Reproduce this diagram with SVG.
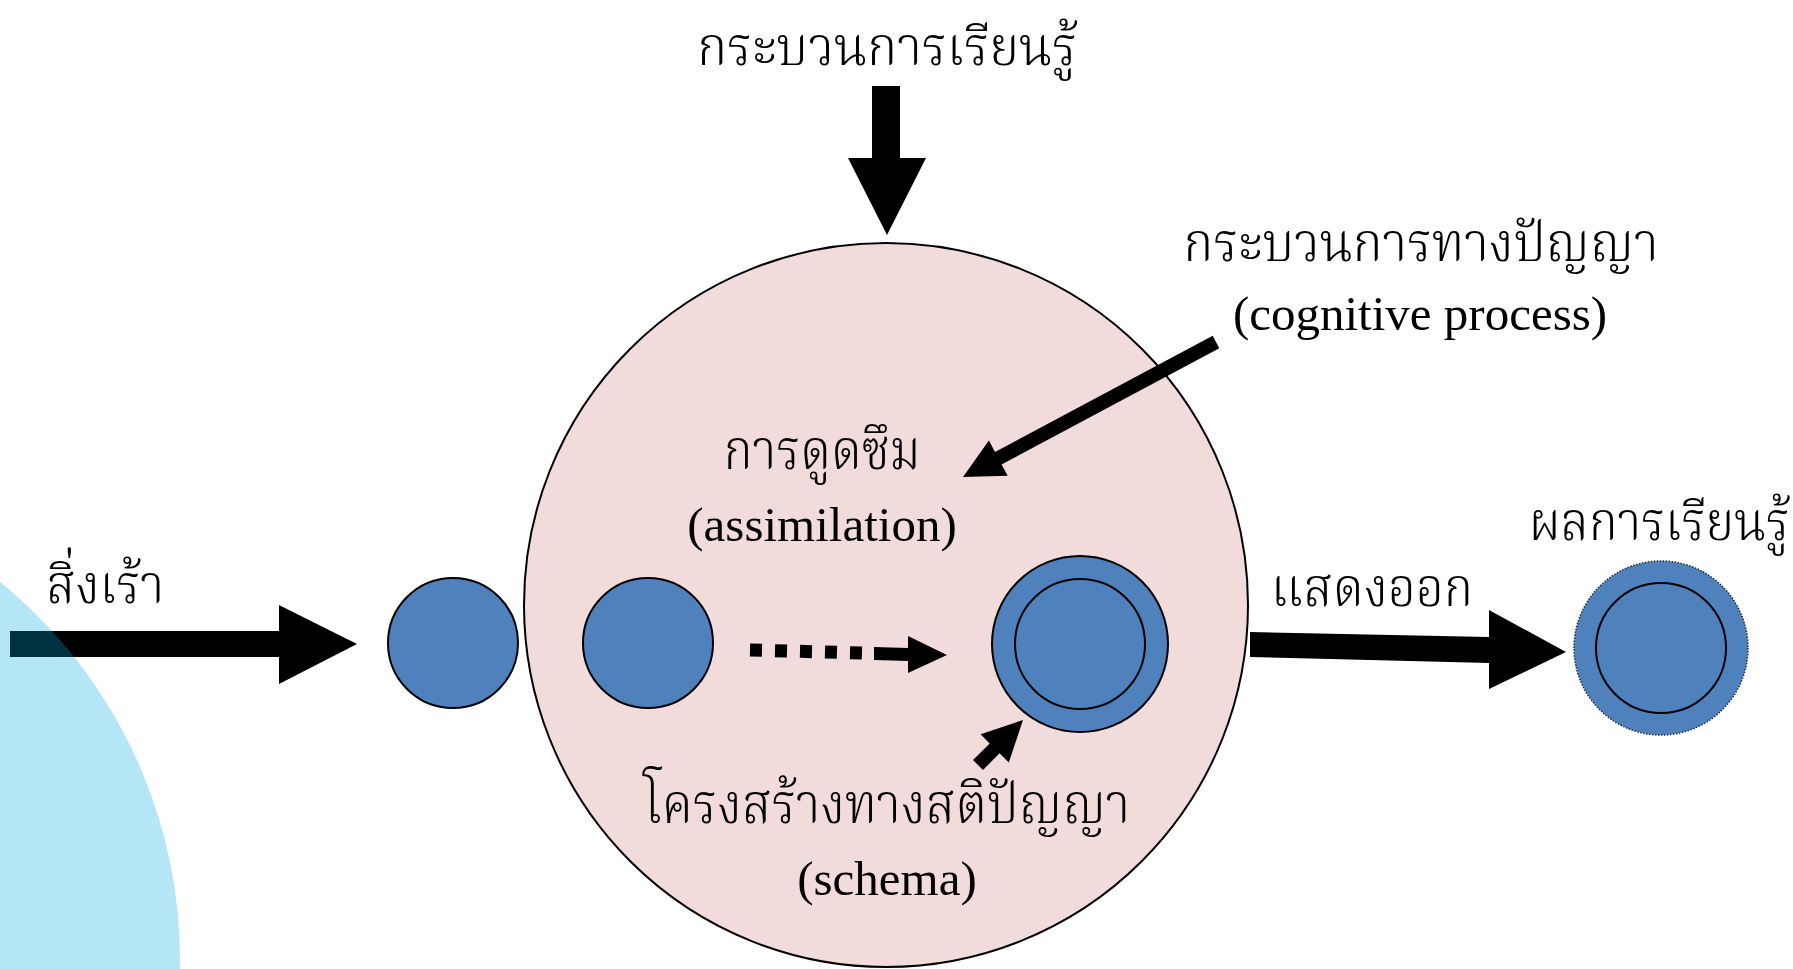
<svg xmlns="http://www.w3.org/2000/svg" width="1793" height="969" viewBox="0 0 1793 969">
<style>
.sans{font-family:"Liberation Serif","Noto Serif Thai","Noto Serif",serif;font-size:54px;font-weight:300;fill:#000}
.serif{font-family:"Liberation Serif","Noto Serif",serif;font-size:49px;fill:#000}
.tserif{font-family:"Liberation Serif","Noto Serif Thai","Noto Serif",serif;font-size:56px;font-weight:300;fill:#000}
.blue{fill:#4f81bd;stroke:#000;stroke-width:2}
.arrow{fill:#000;stroke:none}
</style>
<rect width="1793" height="969" fill="#fff"/>
<g id="big-circle">
<circle cx="886" cy="605" r="362" fill="#f2dcdb" stroke="#000" stroke-width="2"/>
</g>
<g id="connectors">
<polygon class="arrow" points="872,86 900,86 900,158 926,158 887,235 848,158 872,158"/>
<polygon class="arrow" points="10,631 279,631 279,605 357,644 279,684 279,657 10,657"/>
<line x1="750" y1="650" x2="862" y2="653" stroke="#000" stroke-width="13" stroke-dasharray="12 13"/>
<polygon class="arrow" points="874,647 908,648 908,636 947,655 908,673 908,661 874,660"/>
<polygon class="arrow" points="973,760 989.7,743.4 980.6,734.2 1023,720 1008.8,762.4 999.6,753.3 983,770"/>
<polygon class="arrow" points="1212.7,335.8 1219.3,348.2 1001.6,464.4 1007.7,475.8 963,477 988.9,440.6 995,452"/>
<polygon class="arrow" points="1250,632 1489,637 1489,610 1566,652 1489,689 1489,663 1250,657"/>
</g>
<g id="stimulus-bg">
<circle cx="-307" cy="960" r="487" fill="rgb(0,169,221)" fill-opacity="0.29"/>
</g>
<g id="node-stimulus-circle">
<circle class="blue" cx="453" cy="643" r="65"/>
</g>
<g id="node-assimilation-circle">
<circle class="blue" cx="648" cy="643" r="65"/>
</g>
<g id="node-schema-circle">
<circle class="blue" cx="1080" cy="644" r="88"/>
<circle class="blue" cx="1080" cy="644" r="65"/>
</g>
<g id="node-result-circle">
<circle cx="1661" cy="648" r="87" fill="#4f81bd" stroke="#1a2a40" stroke-width="1.5" stroke-dasharray="1.5 1.5"/>
<circle class="blue" cx="1661" cy="648" r="65"/>
</g>
<g id="labels">
<text class="sans" transform="translate(887,65) scale(0.95,1)" text-anchor="middle">กระบวนการเรียนรู้</text>
<text class="sans" transform="translate(46,603) scale(0.92,1)">สิ่งเร้า</text>
<text class="sans" transform="translate(1421,261) scale(0.945,1)" text-anchor="middle">กระบวนการทางปัญญา</text>
<text class="serif" x="1420" y="330" text-anchor="middle">(cognitive process)</text>
<text class="tserif" transform="translate(822,469) scale(0.88,1)" text-anchor="middle">การดูดซึม</text>
<text class="serif" x="822" y="541" text-anchor="middle">(assimilation)</text>
<text class="sans" transform="translate(1271,606) scale(0.92,1)">แสดงออก</text>
<text class="sans" transform="translate(1529,540) scale(0.91,1)">ผลการเรียนรู้</text>
<text class="tserif" transform="translate(887,823) scale(0.9,1)" text-anchor="middle">โครงสร้างทางสติปัญญา</text>
<text class="serif" x="887" y="895" text-anchor="middle">(schema)</text>
</g>
</svg>
